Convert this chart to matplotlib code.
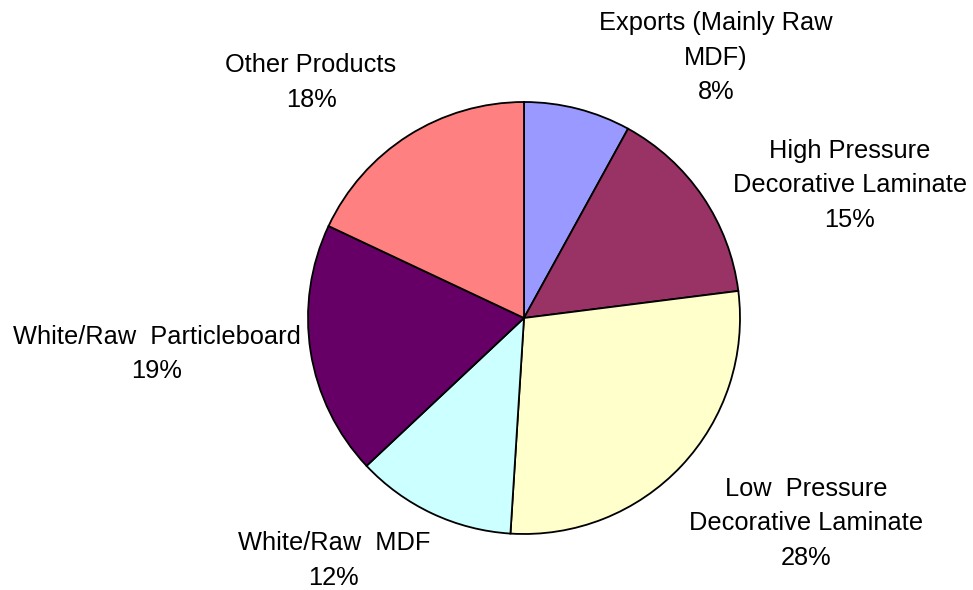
import matplotlib
matplotlib.use("Agg")
import matplotlib.pyplot as plt

# Market share by product segment
categories = [
    "Exports (Mainly Raw\nMDF)",
    "High Pressure\nDecorative Laminate",
    "Low  Pressure\nDecorative Laminate",
    "White/Raw  MDF",
    "White/Raw  Particleboard",
    "Other Products",
]
shares = [8, 15, 28, 12, 19, 18]
colors = ["#9999FF", "#993366", "#FFFFCC", "#CCFFFF", "#660066", "#FF8080"]

# Label anchor points (in pie-radius units, relative to pie centre)
label_xy = [
    (0.889, 1.205),
    (1.509, 0.615),
    (1.306, -0.950),
    (-0.880, -1.122),
    (-1.699, -0.166),
    (-0.986, 1.090),
]

plt.rcParams["font.family"] = ["Liberation Sans", "DejaVu Sans"]

W, H = 973, 590
fig = plt.figure(figsize=(W / 100, H / 100), dpi=100)
ax = fig.add_axes([0, 0, 1, 1])

cx, cy, r = 524, 318, 216

ax.pie(
    shares,
    colors=colors,
    startangle=90,
    counterclock=False,
    radius=1.0,
    center=(0, 0),
    frame=True,
    wedgeprops=dict(edgecolor="black", linewidth=1.3),
)
ax.set_xlim((0 - cx) / r, (W - cx) / r)
ax.set_ylim((cy - H) / r, (cy - 0) / r)
ax.set_aspect("equal")
ax.axis("off")

for name, val, (x, y) in zip(categories, shares, label_xy):
    ax.text(
        x, y, f"{name}\n{val}%",
        ha="center", va="center", multialignment="center",
        fontsize=18.3, color="black", linespacing=1.55,
    )

fig.savefig("out.png", dpi=100, facecolor="white")
